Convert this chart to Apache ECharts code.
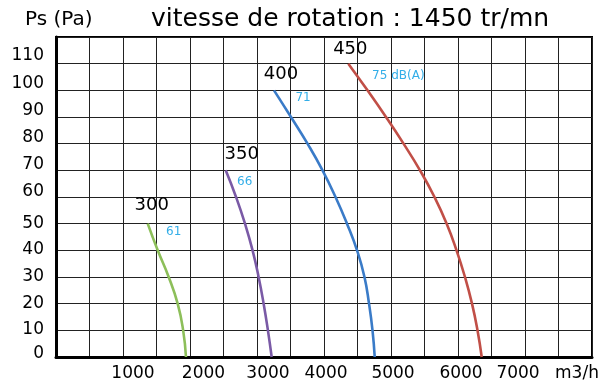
<!DOCTYPE html>
<html>
<head>
<meta charset="utf-8">
<script src="https://cdn.jsdelivr.net/npm/echarts@6/dist/echarts.min.js"></script>
<style>
html,body{margin:0;padding:0;background:#fff;}
#c{width:605px;height:389px;}
</style>
</head>
<body>
<div id="c"></div>
<script>
// ---- data ----
var models = ['300', '350', '400', '450'];
var noise = ['61', '66', '71', '75 dB(A)'];
var flow300 = [1369, 1518, 1682, 1816, 1898, 1940];
var ps300   = [50, 40, 30, 20, 10, 0];
var flow350 = [2533, 2687, 2821, 2934, 3024, 3099, 3163, 3219];
var ps350   = [70, 60, 50, 40, 30, 20, 10, 0];
var flow400 = [3254, 3507, 3754, 3978, 4172, 4343, 4493, 4604, 4672, 4724, 4757];
var ps400   = [100, 90, 80, 70, 60, 50, 40, 30, 20, 10, 0];
var flow450 = [4363, 4649, 4925, 5187, 5433, 5649, 5831, 5978, 6104, 6209, 6291, 6354];
var ps450   = [110, 100, 90, 80, 70, 60, 50, 40, 30, 20, 10, 0];
// tick labels (text) and where they sit along the axis
var xTickLabels = ['1000', '2000', '3000', '4000', '5000', '6000', '7000', 'm3/h'];
var xTickAt     = [1149, 2201, 3164, 4030, 5030, 6045, 6896, 7776];
var yTickLabels = ['110', '100', '90', '80', '70', '60', '50', '40', '30', '20', '10', '0'];
var yTickAt     = [113.2, 102.6, 92.4, 82.4, 72.3, 62, 50.2, 40.2, 30, 20.2, 10.2, 1.2];

// ---- styling ----
var FONT = 'DejaVu Sans';
var colors = ['#8dbf5a', '#7a5aa6', '#3a7bc8', '#c14f47'];
var modelOffsets = [[4, -18], [16, -16], [7, -16], [2, -14]];
var noiseOffsets = [[26, 8], [19, 12], [29, 8], [50, 12]];

var flows = [flow300, flow350, flow400, flow450];
var pss = [ps300, ps350, ps400, ps450];

function pairs(xs, ys) { return xs.map(function (x, i) { return [x, ys[i]]; }); }

var series = models.map(function (m, k) {
  var d = pairs(flows[k], pss[k]);
  return {
    type: 'line', name: m, xAxisIndex: 0, yAxisIndex: 0,
    data: d, smooth: 0.5, symbol: 'none', clip: false,
    lineStyle: { color: colors[k], width: 2.6 },
    markPoint: {
      symbol: 'circle', symbolSize: 0, animation: false,
      data: [
        { coord: d[0], label: { show: true, formatter: m, position: 'inside', offset: modelOffsets[k],
          color: '#000', fontFamily: FONT, fontSize: 18, align: 'center', verticalAlign: 'middle' } },
        { coord: d[0], label: { show: true, formatter: noise[k], position: 'inside', offset: noiseOffsets[k],
          color: '#33aee8', fontFamily: FONT, fontSize: 12, align: 'center', verticalAlign: 'middle' } }
      ]
    }
  };
});

var chart = echarts.init(document.getElementById('c'), null, { renderer: 'canvas' });
chart.setOption({
  animation: false,
  backgroundColor: '#fff',
  title: [
    { text: 'Ps (Pa)', left: 20, top: 5, textStyle: { fontFamily: FONT, fontSize: 20, fontWeight: 'normal', color: '#000' } },
    { text: 'vitesse de rotation : 1450 tr/mn', left: 146, top: 2, textStyle: { fontFamily: FONT, fontSize: 25, fontWeight: 'normal', color: '#000' } }
  ],
  grid: { left: 56, right: 13, top: 37, bottom: 32, show: true, borderColor: '#000', borderWidth: 2, backgroundColor: 'transparent' },
  xAxis: [
    { type: 'value', min: 0, max: 8000, interval: 500, position: 'bottom',
      axisLine: { show: true, onZero: false, lineStyle: { color: '#000', width: 3 } },
      axisTick: { show: false }, axisLabel: { show: false },
      splitLine: { show: true, lineStyle: { color: '#222', width: 1 } } },
    { type: 'value', min: 0, max: 8000, position: 'bottom', offset: 0,
      axisLine: { show: false }, axisTick: { show: false }, splitLine: { show: false },
      axisLabel: { show: true, customValues: xTickAt, margin: 8, color: '#000', fontFamily: FONT, fontSize: 17,
        formatter: function (v) { var i = xTickAt.indexOf(v); return i >= 0 ? xTickLabels[i] : ''; } } }
  ],
  yAxis: [
    { type: 'value', min: 0, max: 120, interval: 10, position: 'left',
      axisLine: { show: true, onZero: false, lineStyle: { color: '#000', width: 3 } },
      axisTick: { show: false }, axisLabel: { show: false },
      splitLine: { show: true, lineStyle: { color: '#222', width: 1 } } },
    { type: 'value', min: 0, max: 120, position: 'left', offset: 0,
      axisLine: { show: false }, axisTick: { show: false }, splitLine: { show: false },
      axisLabel: { show: true, customValues: yTickAt, margin: 12, color: '#000', fontFamily: FONT, fontSize: 17,
        formatter: function (v) { var i = yTickAt.indexOf(v); return i >= 0 ? yTickLabels[i] : ''; } } }
  ],
  series: series
});
</script>
</body>
</html>
